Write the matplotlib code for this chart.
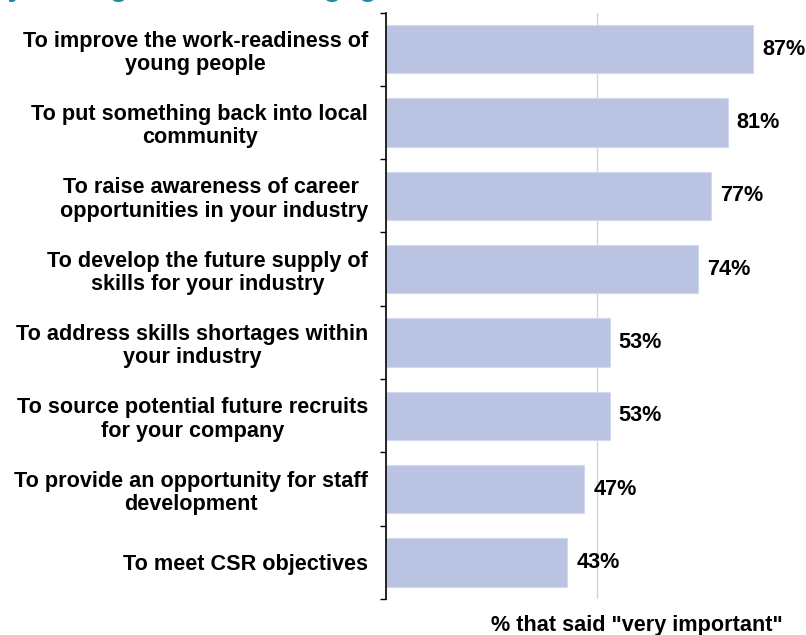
import matplotlib
matplotlib.use("Agg")
import matplotlib.pyplot as plt
from matplotlib.ticker import FixedLocator

categories = [
    "To improve the work-readiness of\nyoung people",
    "To put something back into local\ncommunity",
    "To raise awareness of career \nopportunities in your industry",
    "To develop the future supply of\nskills for your industry",
    "To address skills shortages within\nyour industry",
    "To source potential future recruits\nfor your company",
    "To provide an opportunity for staff\ndevelopment",
    "To meet CSR objectives",
]
values = [87, 81, 77, 74, 53, 53, 47, 43]
x_label = '% that said "very important"'
title = "Why do organisations engage with schools?"

plt.rcParams['font.family'] = ['Liberation Sans', 'DejaVu Sans']
FS = 15.6
W, H = 806, 635
fig = plt.figure(figsize=(W / 100, H / 100), dpi=100)

left, right = 386 / W, 808 / W
top, bottom = 1 - 12.5 / H, 1 - 599 / H
ax = fig.add_axes([left, bottom, right - left, top - bottom])

ypos = list(range(len(categories)))
bars = ax.barh(ypos, values, height=0.66, color='#BAC3E2',
               edgecolor='#D3D9EE', linewidth=0.8, zorder=2)
ax.set_xlim(0, 100)
ax.set_ylim(len(categories) - 0.5, -0.5)

ax.set_yticks(ypos)
ax.set_yticklabels(categories, fontsize=FS, fontweight='bold',
                   multialignment='center', linespacing=1.15)
ax.yaxis.set_minor_locator(FixedLocator([i - 0.5 for i in range(len(categories) + 1)]))
ax.tick_params(axis='y', which='major', length=0, pad=13)
ax.tick_params(axis='y', which='minor', length=4.5, width=1, color='black')

ax.set_xticks([50, 100])
ax.tick_params(axis='x', length=0, labelbottom=False)
ax.grid(axis='x', color='#D4D4D4', linewidth=1, zorder=0)
ax.set_axisbelow(True)

for s in ['top', 'right', 'bottom']:
    ax.spines[s].set_visible(False)
ax.spines['left'].set_linewidth(1.2)

ax.bar_label(bars, labels=[f"{v}%" for v in values], padding=6.5,
             fontsize=FS, fontweight='bold')

fig.text(636.5 / W, 1 - 625 / H, x_label, ha='center', va='center',
         fontsize=FS, fontweight='bold')

fig.text(-40 / W, 1 + 4.5 / H, title, ha='left', va='baseline',
         fontsize=22, fontweight='bold', color='#1A8C9C')

fig.savefig("out.png", dpi=100)
